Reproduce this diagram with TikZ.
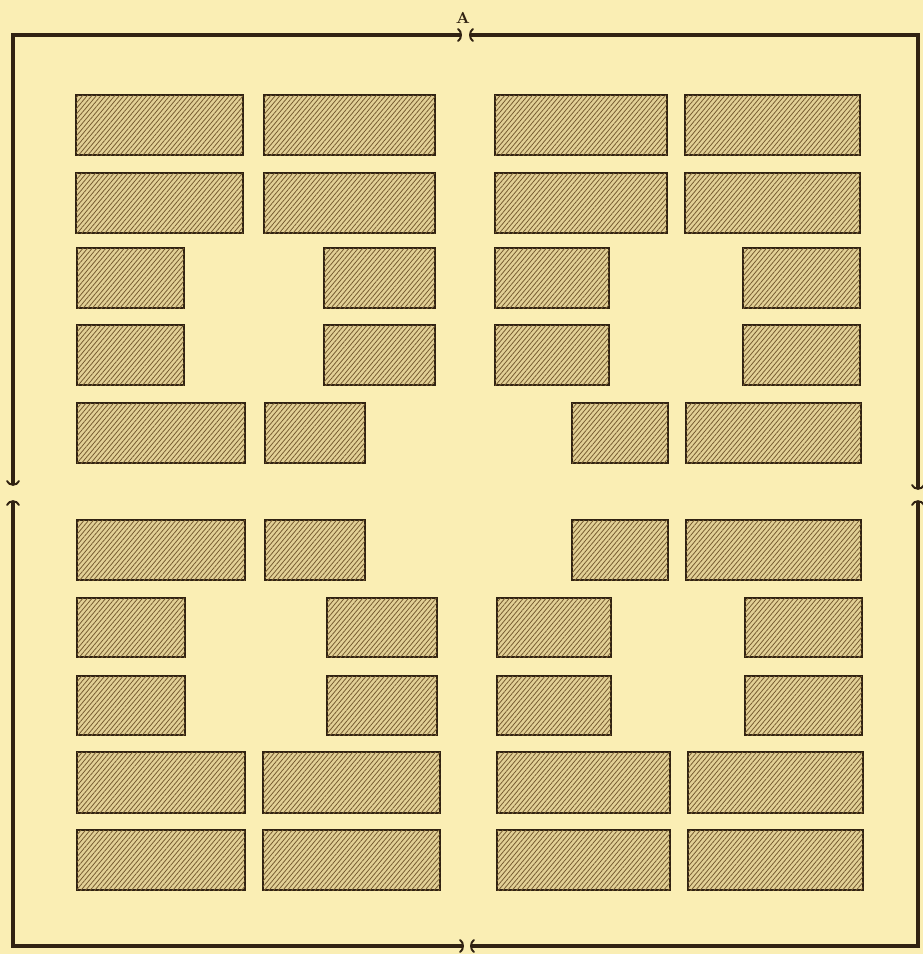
\documentclass[tikz,border=0pt]{standalone}
\usepackage{tikz}
\usetikzlibrary{patterns.meta}
\usepackage{xcolor}
\definecolor{paper}{RGB}{250,238,180}
\definecolor{ink}{RGB}{48,34,18}
\definecolor{tan}{RGB}{226,208,150}
\definecolor{hatch}{RGB}{118,92,48}

\begin{document}
\begin{tikzpicture}[x=0.02cm,y=-0.02cm,line cap=round,
  frame/.style={ink,line width=1.9pt},
  breakmark/.style={ink,line width=1.1pt},
  block/.style={ink,line width=1.5pt,fill=tan,
    postaction={pattern={Lines[angle=50,distance=2pt,line width=0.45pt]},pattern color=hatch}}]
\fill[paper] (0,0) rectangle (923,954);
\useasboundingbox (0,0) rectangle (923,954);
% outer frame, broken at the middle of each side
\draw[frame] (460,35) -- (13,35) -- (13,484);
\draw[frame] (13,502) -- (13,946) -- (462,946);
\draw[frame] (472,946) -- (918,946) -- (918,502);
\draw[frame] (918,488) -- (918,35) -- (471,35);
\draw[breakmark] (458,29) .. controls (462,31) and (462,39) .. (458,41);
\draw[breakmark] (473,29) .. controls (469,31) and (469,39) .. (473,41);
\draw[breakmark] (7,481) .. controls (9,486) and (17,486) .. (19,481);
\draw[breakmark] (7,505) .. controls (9,500) and (17,500) .. (19,505);
\draw[breakmark] (912,485) .. controls (914,490) and (922,490) .. (924,485);
\draw[breakmark] (912,505) .. controls (914,500) and (922,500) .. (924,505);
\draw[breakmark] (460,940) .. controls (464,942) and (464,950) .. (460,952);
\draw[breakmark] (474,940) .. controls (470,942) and (470,950) .. (474,952);
\node[ink,font=\fontsize{9}{10}\selectfont\bfseries] (lblA) at (463,18) {A};
% beds
\foreach \ya/\yb in {95/155,173/233}
  \foreach \xa/\xb in {76/243,264/435,495/667,685/860}
    \draw[block] (\xa,\ya) rectangle (\xb,\yb);
\foreach \ya/\yb in {248/308,325/385}
  \foreach \xa/\xb in {77/184,324/435,495/609,743/860}
    \draw[block] (\xa,\ya) rectangle (\xb,\yb);
\foreach \ya/\yb in {403/463,520/580}
  \foreach \xa/\xb in {77/245,265/365,572/668,686/861}
    \draw[block] (\xa,\ya) rectangle (\xb,\yb);
\foreach \ya/\yb in {598/657,676/735}
  \foreach \xa/\xb in {77/185,327/437,497/611,745/862}
    \draw[block] (\xa,\ya) rectangle (\xb,\yb);
\foreach \ya/\yb in {752/813,830/890}
  \foreach \xa/\xb in {77/245,263/440,497/670,688/863}
    \draw[block] (\xa,\ya) rectangle (\xb,\yb);
\end{tikzpicture}
\end{document}
